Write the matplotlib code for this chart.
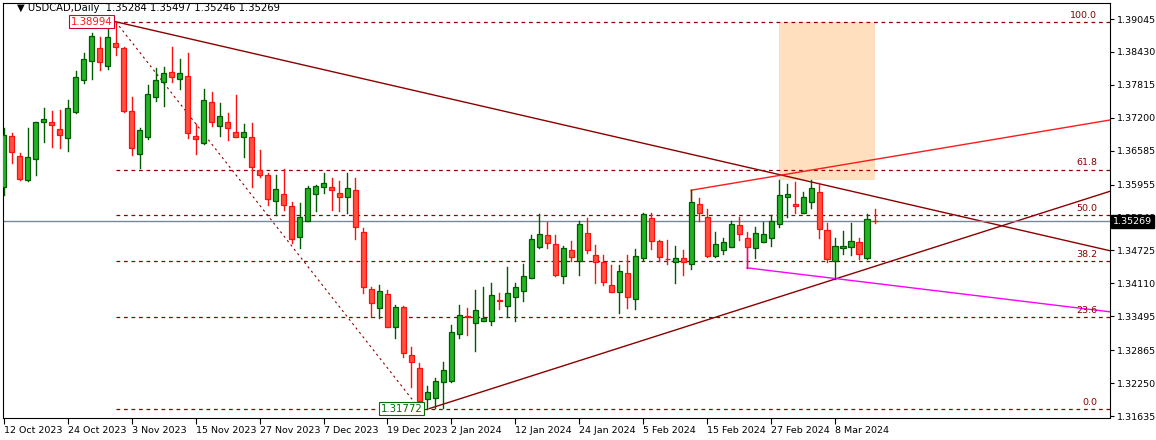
import matplotlib
matplotlib.use('Agg')
import matplotlib.pyplot as plt
from matplotlib.patches import Rectangle

# daily OHLC, 12 Oct 2023 .. 15 Mar 2024
opens = [1.3591,1.3686,1.3649,1.3604,1.3643,1.3712,1.3712,1.3699,1.3682,1.3731,
         1.3791,1.3826,1.3850,1.3817,1.3860,1.3850,1.3733,1.3653,1.3684,1.3759,
         1.3787,1.3806,1.3793,1.3798,1.3686,1.3673,1.3750,1.3705,1.3712,1.3694,
         1.3684,1.3684,1.3623,1.3614,1.3565,1.3578,1.3556,1.3498,1.3528,1.3578,
         1.3591,1.3591,1.3580,1.3572,1.3585,1.3507,1.3401,1.3365,1.3391,1.3330,
         1.3367,1.3278,1.3253,1.3195,1.3197,1.3227,1.3229,1.3317,1.3350,1.3337,
         1.3341,1.3341,1.3380,1.3369,1.3386,1.3397,1.3421,1.3479,1.3501,1.3485,
         1.3425,1.3474,1.3453,1.3505,1.3464,1.3451,1.3408,1.3395,1.3431,1.3382,
         1.3459,1.3533,1.3490,1.3457,1.3451,1.3459,1.3447,1.3559,1.3535,1.3462,
         1.3474,1.3479,1.3520,1.3496,1.3477,1.3488,1.3496,1.3522,1.3572,1.3559,
         1.3543,1.3563,1.3582,1.3511,1.3453,1.3477,1.3479,1.3488,1.3459,1.35284]
highs = [1.3701,1.3692,1.3655,1.3701,1.3712,1.3738,1.3733,1.3735,1.3753,1.3808,
         1.3841,1.3878,1.3871,1.3890,1.38994,1.3852,1.3759,1.3701,1.3781,1.3813,
         1.3815,1.3852,1.3830,1.3841,1.3709,1.3774,1.3768,1.3748,1.3729,1.3763,
         1.3709,1.3710,1.3660,1.3617,1.3614,1.3625,1.3563,1.3561,1.3593,1.3595,
         1.3617,1.3608,1.3602,1.3617,1.3608,1.3515,1.3404,1.3408,1.3399,1.3371,
         1.3369,1.3293,1.3263,1.3220,1.3235,1.3264,1.3334,1.3371,1.3365,1.3399,
         1.3404,1.3412,1.3393,1.3442,1.3412,1.3447,1.3501,1.3541,1.3526,1.3501,
         1.3481,1.3490,1.3528,1.3533,1.3483,1.3464,1.3446,1.3446,1.3464,1.3475,
         1.3543,1.3543,1.3492,1.3492,1.3481,1.3474,1.3585,1.3571,1.3550,1.3507,
         1.3496,1.3528,1.3535,1.3507,1.3516,1.3526,1.3539,1.3604,1.3597,1.3600,
         1.3582,1.3604,1.3599,1.3524,1.3496,1.3509,1.3524,1.3496,1.3541,1.35497]
lows = [1.3576,1.3636,1.3604,1.3602,1.3613,1.3675,1.3666,1.3664,1.3658,1.3729,
        1.3785,1.3793,1.3809,1.3811,1.3837,1.3731,1.3651,1.3627,1.3681,1.3752,
        1.3742,1.3787,1.3774,1.3682,1.3653,1.3671,1.3705,1.3686,1.3679,1.3684,
        1.3647,1.3591,1.3610,1.3557,1.3539,1.3548,1.3487,1.3477,1.3528,1.3546,
        1.3580,1.3548,1.3546,1.3543,1.3494,1.3393,1.3348,1.3347,1.3330,1.3309,
        1.3274,1.3218,1.3188,1.31772,1.3179,1.3179,1.3227,1.3309,1.3315,1.3285,
        1.3341,1.3334,1.3363,1.3348,1.3341,1.3378,1.3421,1.3477,1.3477,1.3425,
        1.3412,1.3453,1.3427,1.3468,1.3412,1.3408,1.3395,1.3356,1.3365,1.3363,
        1.3455,1.3475,1.3453,1.3447,1.3412,1.3427,1.3438,1.3528,1.3460,1.3460,
        1.3466,1.3479,1.3492,1.3440,1.3459,1.3488,1.3481,1.3516,1.3535,1.3543,
        1.3543,1.3552,1.3496,1.3451,1.3419,1.3466,1.3464,1.3457,1.3457,1.35246]
closes = [1.3688,1.3656,1.3606,1.3647,1.3712,1.3718,1.3707,1.3688,1.3738,1.3796,
          1.3830,1.3873,1.3824,1.3871,1.3852,1.3733,1.3664,1.3697,1.3765,1.3791,
          1.3804,1.3796,1.3804,1.3692,1.3681,1.3753,1.3712,1.3724,1.3701,1.3684,
          1.3694,1.3628,1.3614,1.3569,1.3587,1.3557,1.3494,1.3535,1.3589,1.3593,
          1.3599,1.3585,1.3572,1.3589,1.3516,1.3404,1.3375,1.3397,1.3330,1.3367,
          1.3281,1.3265,1.3192,1.3209,1.3229,1.3250,1.3320,1.3352,1.3348,1.3362,
          1.3347,1.3390,1.3378,1.3393,1.3404,1.3425,1.3494,1.3503,1.3487,1.3427,
          1.3477,1.3460,1.3522,1.3474,1.3451,1.3414,1.3395,1.3434,1.3386,1.3462,
          1.3541,1.3490,1.3460,1.3456,1.3459,1.3451,1.3563,1.3543,1.3462,1.3485,
          1.3488,1.3522,1.3503,1.3479,1.3505,1.3503,1.3528,1.3576,1.3578,1.3556,
          1.3572,1.3589,1.3513,1.3457,1.3481,1.3481,1.3490,1.3466,1.3531,1.35269]

date_labels = ['12 Oct 2023', '24 Oct 2023', '3 Nov 2023', '15 Nov 2023', '27 Nov 2023',
               '7 Dec 2023', '19 Dec 2023', '2 Jan 2024', '12 Jan 2024', '24 Jan 2024',
               '5 Feb 2024', '15 Feb 2024', '27 Feb 2024', '8 Mar 2024']
date_idx = [0, 8, 16, 24, 32, 40, 48, 56, 64, 72, 80, 88, 96, 104]
price_ticks = [1.39045, 1.38430, 1.37815, 1.37200, 1.36585, 1.35955, 1.35340,
               1.34725, 1.34110, 1.33495, 1.32865, 1.32250, 1.31635]

fib_hi, fib_lo = 1.38994, 1.31772
fib_pcts = [0.0, 23.6, 38.2, 50.0, 61.8, 100.0]
hi_idx, lo_idx = 14, 53
x_end = 138.4

# drawn tools (start/end in bar index, price)
down_trend = [(14, 1.38994), (x_end, 1.3472)]
up_trend = [(53.2, 1.31772), (x_end, 1.3583)]
red_line = [(86, 1.3585), (x_end, 1.3716)]
magenta_line = [(93, 1.3440), (x_end, 1.3358)]
box = (97, 109, 1.3604, 1.3899)

FS = 6.8
fig = plt.figure(figsize=(11.56, 4.4), dpi=100)
ax = fig.add_axes([3/1156, 22/440, 1107/1156, 415/440])
ax.set_xlim(-0.1, x_end)
ax.set_ylim(1.31598, 1.39344)

green_f, green_e = '#22b422', '#005a00'
red_f, red_e = '#ff5040', '#ff1010'
for i, (o, h, l, c) in enumerate(zip(opens, highs, lows, closes)):
    up = c >= o
    ec = green_e if up else red_e
    ax.plot([i, i], [l, h], color=ec, lw=1, zorder=3)
    lo_b, hi_b = min(o, c), max(o, c)
    ax.add_patch(Rectangle((i - 0.32, lo_b), 0.64, max(hi_b - lo_b, 0.00005),
                           facecolor=green_f if up else red_f, edgecolor=ec, lw=0.9, zorder=4))

# fibonacci levels
for p in fib_pcts:
    lvl = fib_lo + (fib_hi - fib_lo) * p / 100
    ax.plot([hi_idx, x_end], [lvl, lvl], color='#8b0000', ls=(0, (3, 3)), lw=0.9, zorder=2)
    ax.text(x_end - 1.6, lvl + 0.0004, f'{p:.1f}', color='#8b0000', fontsize=FS,
            ha='right', va='bottom', zorder=5)
ax.plot([hi_idx, 52], [fib_hi, fib_lo], color='#8b0000', ls=(0, (2, 3)), lw=0.8, zorder=2)

for (x0, y0), (x1, y1) in [down_trend, up_trend]:
    ax.plot([x0, x1], [y0, y1], color='#8b0000', lw=1, zorder=2)
ax.plot(*zip(*red_line), color='#ff1a1a', lw=1, zorder=2)
ax.plot([red_line[0][0]] * 2, [1.3565, red_line[0][1]], color='#ff1a1a', lw=1, zorder=2)
ax.plot(*zip(*magenta_line), color='#ff00ff', lw=1, zorder=2)
ax.plot([magenta_line[0][0]] * 2, [1.3496, magenta_line[0][1]], color='#ff00ff', lw=1, zorder=2)
ax.add_patch(Rectangle((box[0], box[2]), box[1] - box[0], box[3] - box[2],
                       facecolor='#ffdfbd', edgecolor='none', zorder=1))

ax.axhline(closes[-1], color='#778899', lw=1, zorder=2)

ax.text(hi_idx - 0.4, fib_hi, f'{fib_hi:.5f}', color='#ff1a1a', fontsize=FS + 0.5, ha='right', va='center',
        bbox=dict(boxstyle='square,pad=0.15', fc='white', ec='#cc0033', lw=0.8), zorder=6)
ax.text(lo_idx - 0.6, fib_lo, f'{fib_lo:.5f}', color='#007000', fontsize=FS + 0.5, ha='right', va='center',
        bbox=dict(boxstyle='square,pad=0.15', fc='white', ec='#007000', lw=0.8), zorder=6)

ax.text(1.6, 1.3925, '\u25bc USDCAD,Daily  1.35284 1.35497 1.35246 1.35269', fontsize=FS + 0.4,
        color='black', va='center', zorder=6)

ax.yaxis.tick_right()
ax.set_yticks(price_ticks)
ax.set_yticklabels([f'{v:.5f}' for v in price_ticks], fontsize=FS)
ax.set_xticks(date_idx)
ax.set_xticklabels(date_labels, fontsize=FS, ha='left')
ax.tick_params(axis='x', length=4, pad=2)
ax.tick_params(axis='y', length=3, pad=2)
for s in ax.spines.values():
    s.set_linewidth(0.8)
ax.text(1.003, closes[-1], f'{closes[-1]:.5f}', transform=ax.get_yaxis_transform(),
        color='white', fontsize=FS, va='center', ha='left',
        bbox=dict(boxstyle='square,pad=0.2', fc='black', ec='black'), zorder=6, clip_on=False)

fig.savefig('out.png', dpi=100)
